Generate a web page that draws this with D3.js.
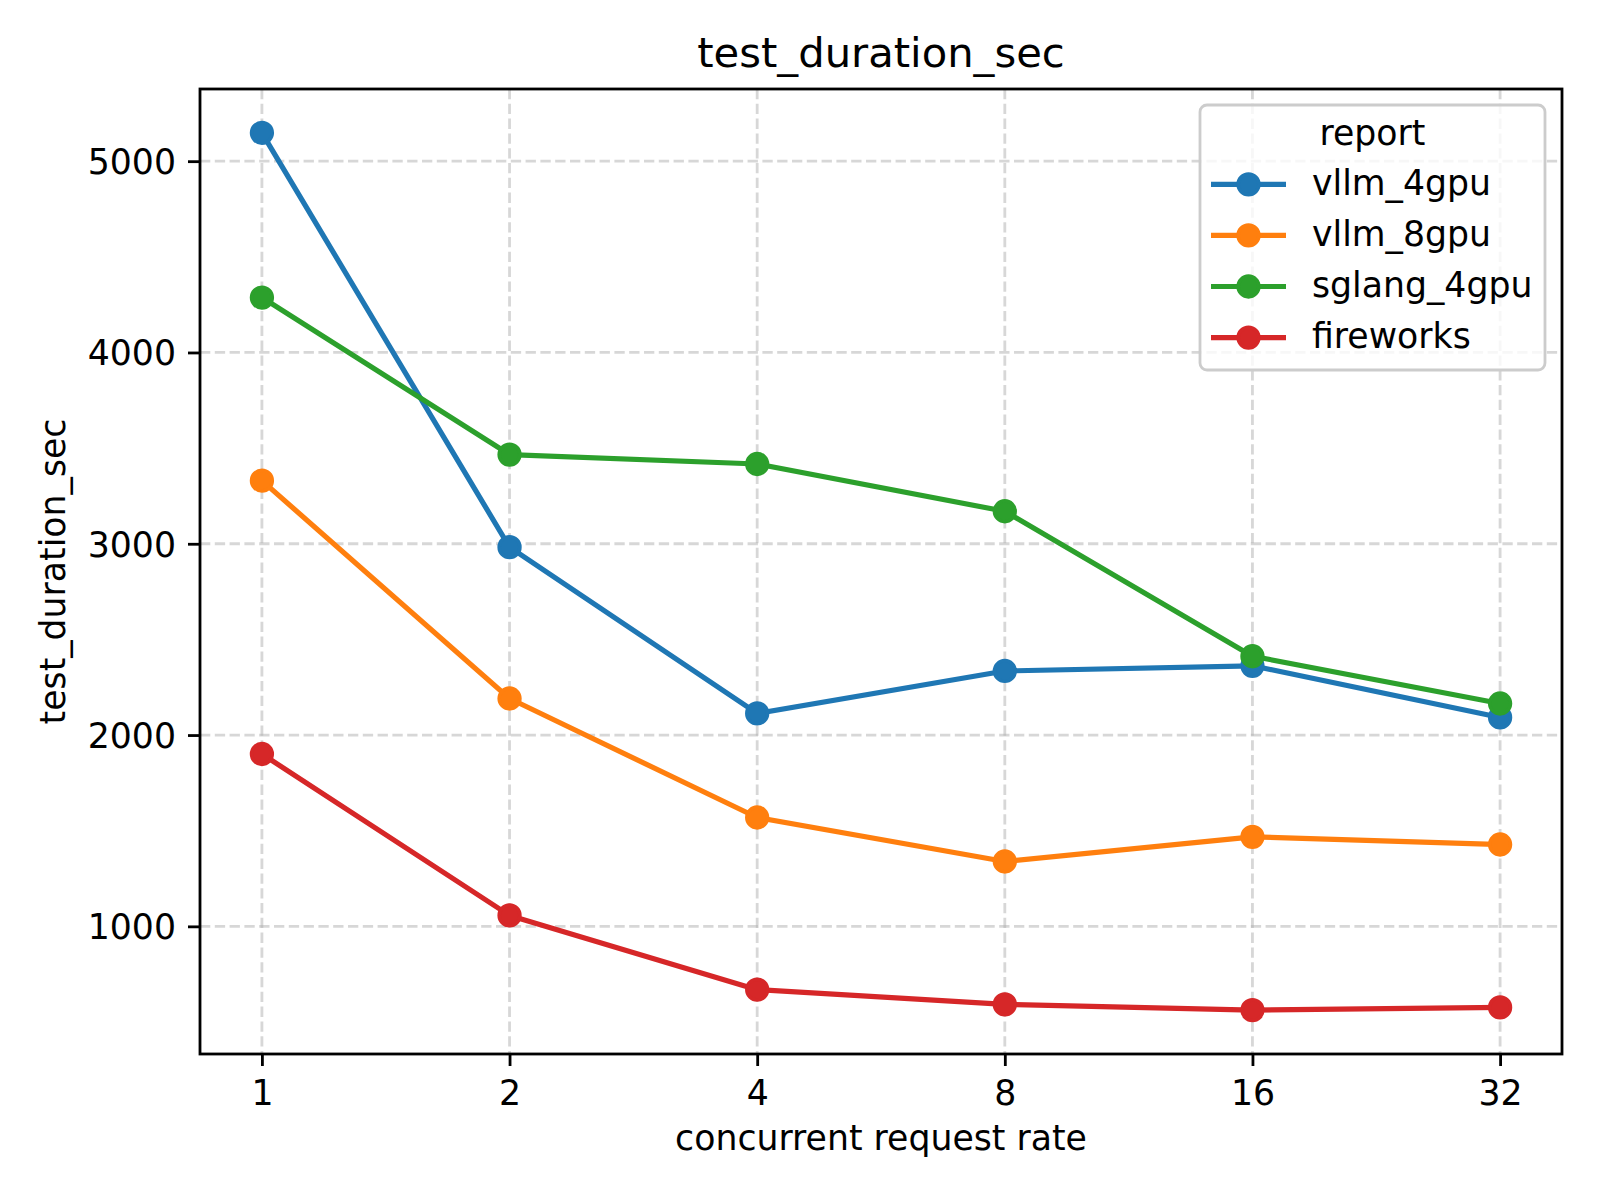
<!DOCTYPE html>
<html>
<head>
<meta charset="utf-8">
<script src="https://cdn.jsdelivr.net/npm/d3@7"></script>
<style>
  body { margin: 0; background: #fff; }
  svg text { font-family: "DejaVu Sans", sans-serif; fill: #000; }
</style>
</head>
<body>
<div id="chart"></div>
<script>
// data
const rates = ["1", "2", "4", "8", "16", "32"];
const seriesNames = ["vllm_4gpu", "vllm_8gpu", "sglang_4gpu", "fireworks"];
const vllm4 = [5148, 2982, 2113, 2335, 2362, 2092];
const vllm8 = [3330, 2191, 1569, 1339, 1468, 1428];
const sglang4 = [4287, 3466, 3417, 3170, 2412, 2165];
const fireworks = [1901, 1057, 669, 592, 562, 576];
const yTicks = [1000, 2000, 3000, 4000, 5000];

const colors = ["#1f77b4", "#ff7f0e", "#2ca02c", "#d62728"];

const W = 1600;
const H = 1200;
const MARGIN = { TOP: 89, RIGHT: 38, BOTTOM: 146, LEFT: 200 };
const WIDTH = W - MARGIN.LEFT - MARGIN.RIGHT;
const HEIGHT = H - MARGIN.TOP - MARGIN.BOTTOM;

const FONT = 34.7;
const LINE_W = 5.2;
const MARKER_R = 10.4;
const MARKER_EDGE = 3.5;

const series = [vllm4, vllm8, sglang4, fireworks].map((vals, i) => ({
  name: seriesNames[i],
  color: colors[i],
  values: vals.map((v, j) => ({ rate: rates[j], value: v })),
}));

const svg = d3
  .select("#chart")
  .append("svg")
  .attr("width", W)
  .attr("height", H);

const g = svg
  .append("g")
  .attr("transform", `translate(${MARGIN.LEFT}, ${MARGIN.TOP})`);

let xScale = d3.scalePoint().domain(rates).range([0, WIDTH]).padding(0.25);

// matplotlib style 5% margins
let all = [].concat(vllm4, vllm8, sglang4, fireworks);
let lo = d3.min(all);
let hi = d3.max(all);
let pad = (hi - lo) * 0.05;
let yScale = d3.scaleLinear().domain([lo - pad, hi + pad]).range([HEIGHT, 0]);

// grid
let grid = g.append("g").attr("class", "grid");
grid
  .selectAll(".vgrid")
  .data(rates)
  .join("line")
  .attr("x1", (d) => xScale(d))
  .attr("x2", (d) => xScale(d))
  .attr("y1", 0)
  .attr("y2", HEIGHT);
grid
  .selectAll(".hgrid")
  .data(yTicks)
  .join("line")
  .attr("x1", 0)
  .attr("x2", WIDTH)
  .attr("y1", (d) => yScale(d))
  .attr("y2", (d) => yScale(d));
grid
  .selectAll("line")
  .attr("stroke", "#b0b0b0")
  .attr("stroke-opacity", 0.5)
  .attr("stroke-width", 2.8)
  .attr("stroke-dasharray", "10.3,4.5");

// axes
let xAxisGroup = g
  .append("g")
  .attr("transform", `translate(0, ${HEIGHT})`)
  .call(d3.axisBottom(xScale).tickSize(12).tickPadding(12));
let yAxisGroup = g
  .append("g")
  .call(d3.axisLeft(yScale).tickValues(yTicks).tickSize(12).tickPadding(12).tickFormat(d3.format("d")));

[xAxisGroup, yAxisGroup].forEach((ax) => {
  ax.select(".domain").remove();
  ax.selectAll(".tick line").attr("stroke", "#000").attr("stroke-width", 2.8);
  ax.selectAll(".tick text")
    .style("font-size", FONT + "px")
    .style("font-family", "DejaVu Sans");
});
xAxisGroup.selectAll(".tick text").attr("dy", "0.78em");
yAxisGroup.selectAll(".tick text").attr("dy", "0.36em");

// lines and markers, one series after another
let line = d3
  .line()
  .x((d) => xScale(d.rate))
  .y((d) => yScale(d.value));

series.forEach((s) => {
  let sg = g.append("g");
  sg.append("path")
    .datum(s.values)
    .attr("d", line)
    .attr("fill", "none")
    .attr("stroke", s.color)
    .attr("stroke-width", LINE_W)
    .attr("stroke-linejoin", "round")
    .attr("stroke-linecap", "square");
  sg.selectAll("circle")
    .data(s.values)
    .join("circle")
    .attr("cx", (d) => xScale(d.rate))
    .attr("cy", (d) => yScale(d.value))
    .attr("r", MARKER_R)
    .attr("fill", s.color)
    .attr("stroke", s.color)
    .attr("stroke-width", MARKER_EDGE);
});

// frame
g.append("rect")
  .attr("width", WIDTH)
  .attr("height", HEIGHT)
  .attr("fill", "none")
  .attr("stroke", "#000")
  .attr("stroke-width", 2.8);

// title and labels
svg.append("text")
  .attr("x", MARGIN.LEFT + WIDTH / 2)
  .attr("y", 66.5)
  .attr("text-anchor", "middle")
  .style("font-size", "41.7px")
  .text("test_duration_sec");

svg.append("text")
  .attr("x", MARGIN.LEFT + WIDTH / 2)
  .attr("y", 1150)
  .attr("text-anchor", "middle")
  .style("font-size", FONT + "px")
  .text("concurrent request rate");

svg.append("text")
  .attr("transform", `translate(65, ${MARGIN.TOP + HEIGHT / 2}) rotate(-90)`)
  .attr("text-anchor", "middle")
  .style("font-size", FONT + "px")
  .text("test_duration_sec");

// legend
let legend = svg.append("g");
legend
  .append("rect")
  .attr("x", 1200)
  .attr("y", 105)
  .attr("width", 345)
  .attr("height", 265)
  .attr("rx", 7)
  .attr("fill", "#fff")
  .attr("fill-opacity", 0.8)
  .attr("stroke", "#cccccc")
  .attr("stroke-width", 2.8);

legend
  .append("text")
  .attr("x", 1372.5)
  .attr("y", 145)
  .attr("text-anchor", "middle")
  .style("font-size", FONT + "px")
  .text("report");

let items = legend
  .selectAll(".item")
  .data(series)
  .join("g")
  .attr("transform", (d, i) => `translate(0, ${184.3 + i * 51.1})`);
items
  .append("line")
  .attr("x1", 1211)
  .attr("x2", 1286)
  .attr("stroke", (d) => d.color)
  .attr("stroke-width", LINE_W);
items
  .append("circle")
  .attr("cx", 1248.5)
  .attr("r", MARKER_R)
  .attr("fill", (d) => d.color)
  .attr("stroke", (d) => d.color)
  .attr("stroke-width", MARKER_EDGE);
items
  .append("text")
  .attr("x", 1312)
  .attr("y", 10.5)
  .style("font-size", FONT + "px")
  .text((d) => d.name);
</script>
</body>
</html>
